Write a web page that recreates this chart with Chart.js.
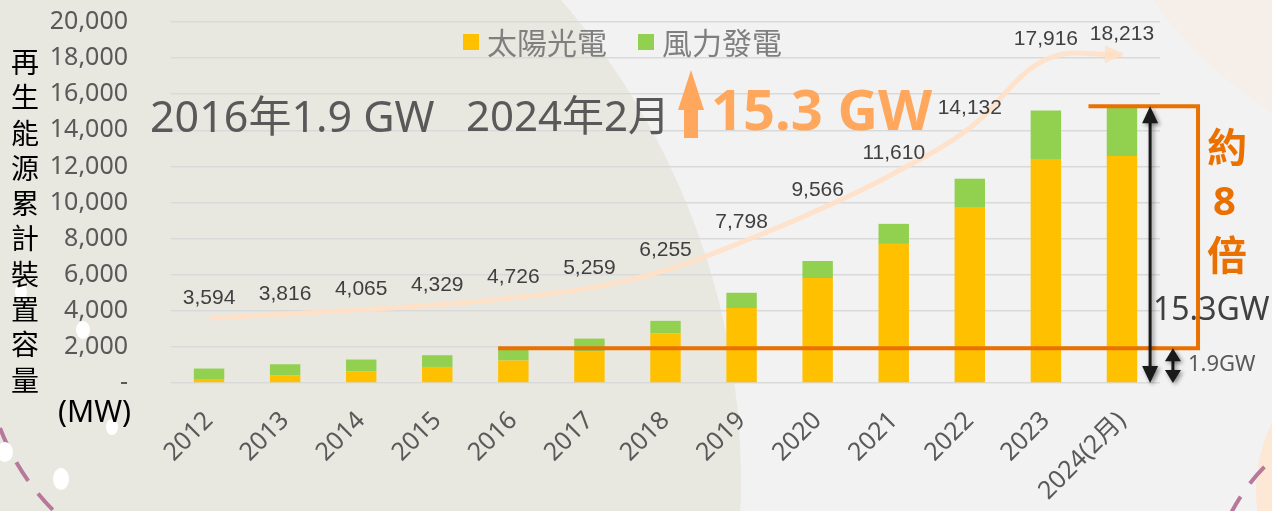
<!DOCTYPE html>
<html>
<head>
<meta charset="utf-8">
<script src="https://cdn.jsdelivr.net/npm/chart.js@4.4.1/dist/chart.umd.min.js"></script>
<style>
  body { margin: 0; width: 1272px; height: 511px; overflow: hidden; background: #F2F2F2; position: relative; font-family: "Noto Sans", "Noto Sans CJK TC", sans-serif; }
  #bg, #fg { position: absolute; left: 0; top: 0; }
  #c { position: absolute; left: 0; top: 0; }
  .t { position: absolute; white-space: pre; line-height: 1; }
  .axisTitle { left: 10px; top: 44px; font-size: 28px; line-height: 35.3px; color: #000; width: 30px; text-align: center; font-family: "Noto Sans CJK TC", sans-serif; }
  .legend { position: absolute; top: 19px; left: 463px; font-size: 30px; color: #7F7F7F; font-family: "Noto Sans CJK TC", sans-serif; }
  .legend span.box { display: inline-block; width: 16px; height: 16px; margin-right: 8px; vertical-align: 4px; }
</style>
</head>
<body>
<svg id="bg" width="1272" height="511">
  <circle cx="11" cy="480" r="730" fill="#E8E8E1"/>
  <circle cx="1500" cy="-250" r="428" fill="#F6EEE8"/>
  <circle cx="1404" cy="490" r="148" fill="#FDE7D5"/>
  <circle cx="1400" cy="600" r="190" fill="none" stroke="#B7789C" stroke-width="4" stroke-dasharray="22 16"/>
  <path d="M 0 428 A 232 232 0 0 0 55 512" fill="none" stroke="#B7789C" stroke-width="4" stroke-dasharray="22 16"/>
  <ellipse cx="21" cy="292" rx="6" ry="8" fill="#fff"/>
  <ellipse cx="83" cy="330" rx="7" ry="9" fill="#fff"/>
  <ellipse cx="112" cy="427" rx="6" ry="8" fill="#fff"/>
  <ellipse cx="5" cy="452" rx="8" ry="10" fill="#fff"/>
  <ellipse cx="61" cy="479" rx="8" ry="11" fill="#fff"/>
</svg>
<canvas id="c" width="1272" height="511"></canvas>
<svg id="fg" width="1272" height="511">
  <polygon points="691,70 704,110 698,110 698,138 684,138 684,110 678,110" fill="#FFA75C"/>
</svg>

<div class="t axisTitle">再<br>生<br>能<br>源<br>累<br>計<br>裝<br>置<br>容<br>量</div>
<div class="t" style="left:58px;top:396px;font-size:30px;color:#000;">(MW)</div>

<div class="legend"><span class="box" style="background:#FFC000"></span>太陽光電<span style="display:inline-block;width:31px"></span><span class="box" style="background:#92D050"></span>風力發電</div>

<div class="t" style="left:150px;top:94px;font-size:43px;color:#595959;">2016年1.9 GW</div>
<div class="t" style="left:466px;top:94px;font-size:42px;color:#595959;">2024年2月</div>
<div class="t" style="left:711px;top:80px;font-size:56px;font-weight:bold;color:#FFA75C;">15.3 GW</div>

<div class="t" style="left:1207px;top:125px;font-size:40px;font-weight:bold;color:#EA7100;font-family:'Noto Sans CJK TC',sans-serif;">約</div>
<div class="t" style="left:1213px;top:180px;font-size:40px;font-weight:bold;color:#EA7100;">8</div>
<div class="t" style="left:1207px;top:233px;font-size:40px;font-weight:bold;color:#EA7100;font-family:'Noto Sans CJK TC',sans-serif;">倍</div>
<div class="t" style="left:1153px;top:292px;font-size:32px;color:#404040;">15.3GW</div>
<div class="t" style="left:1188px;top:351px;font-size:22px;color:#595959;">1.9GW</div>

<script>
// data (MW)
const years = ['2012', '2013', '2014', '2015', '2016', '2017', '2018', '2019', '2020', '2021', '2022', '2023', '2024(2月)'];
const solar = [222, 411, 633, 889, 1245, 1768, 2744, 4150, 5817, 7706, 9744, 12411, 12578];
const wind = [578, 628, 667, 650, 682, 692, 700, 850, 944, 1111, 1573, 2683, 2755];
const renewable = [3594, 3816, 4065, 4329, 4726, 5259, 6255, 7798, 9566, 11610, 14132, 17916, 18213];
const yTicks = [0, 2000, 4000, 6000, 8000, 10000, 12000, 14000, 16000, 18000, 20000];

const curveColor = 'rgba(255, 224, 198, 0.9)';
const fmt = v => v.toLocaleString('en-US');

// labels on the curve, its arrow head, the orange bracket and the black arrows
const annotate = {
  id: 'annotate',
  afterDatasetsDraw(chart) {
    const { ctx, scales: { x, y } } = chart;
    const last = years.length - 1;
    const cw = x.getPixelForValue(1) - x.getPixelForValue(0);
    const bars = chart.getDatasetMeta(0).data;
    const pts = chart.getDatasetMeta(2).data;
    const y0 = y.getPixelForValue(0);
    const yLo = y.getPixelForValue(solar[4] + wind[4]);
    const yHi = y.getPixelForValue(solar[last] + wind[last]);
    const xE = x.getPixelForValue(last);
    const xL = bars[4].x - bars[4].width / 2;
    const xR = xE + cw;

    ctx.save();
    // curve arrow head
    const pe = pts[last];
    ctx.fillStyle = curveColor;
    ctx.beginPath();
    ctx.moveTo(pe.x + 2, pe.y);
    ctx.lineTo(pe.x - 17, pe.y - 9);
    ctx.lineTo(pe.x - 17, pe.y + 9);
    ctx.closePath();
    ctx.fill();

    ctx.font = '21px "Liberation Sans", Arial, sans-serif';
    ctx.fillStyle = '#404040';
    ctx.textAlign = 'center';
    ctx.textBaseline = 'middle';
    pts.forEach((p, i) => ctx.fillText(fmt(renewable[i]), p.x, p.y - 20));

    // orange bracket
    ctx.strokeStyle = '#EA7100';
    ctx.lineWidth = 4;
    ctx.beginPath();
    ctx.moveTo(xL, yLo);
    ctx.lineTo(xR, yLo);
    ctx.lineTo(xR, yHi);
    ctx.lineTo(xE - 0.44 * cw, yHi);
    ctx.stroke();

    // black double arrows
    const dbl = (ax, top, bot, hw, hh) => {
      ctx.save();
      ctx.shadowColor = 'rgba(0,0,0,0.45)';
      ctx.shadowBlur = 4;
      ctx.shadowOffsetX = 2;
      ctx.shadowOffsetY = 2;
      ctx.fillStyle = '#1a1a1a';
      ctx.strokeStyle = '#1a1a1a';
      ctx.lineWidth = 3;
      ctx.beginPath();
      ctx.moveTo(ax, top + hh - 2);
      ctx.lineTo(ax, bot - hh + 2);
      ctx.stroke();
      ctx.beginPath();
      ctx.moveTo(ax, top);
      ctx.lineTo(ax - hw, top + hh);
      ctx.lineTo(ax + hw, top + hh);
      ctx.closePath();
      ctx.moveTo(ax, bot);
      ctx.lineTo(ax - hw, bot - hh);
      ctx.lineTo(ax + hw, bot - hh);
      ctx.closePath();
      ctx.fill();
      ctx.restore();
    };
    dbl(xE + 0.37 * cw, yHi, y0, 8, 17);
    dbl(xE + 0.67 * cw, yLo, y0, 8, 13);
    ctx.restore();
  }
};

new Chart(document.getElementById('c').getContext('2d'), {
  data: {
    labels: years,
    datasets: [
      {
        type: 'bar',
        label: '太陽光電',
        data: solar,
        backgroundColor: '#FFC000',
        stack: 'cap',
        barPercentage: 0.8,
        categoryPercentage: 0.5
      },
      {
        type: 'bar',
        label: '風力發電',
        data: wind,
        backgroundColor: '#92D050',
        stack: 'cap',
        barPercentage: 0.8,
        categoryPercentage: 0.5
      },
      {
        type: 'line',
        label: 'renewable',
        data: renewable,
        stack: 'curve',
        borderColor: curveColor,
        borderWidth: 5,
        pointRadius: 0,
        tension: 0.4,
        fill: false,
        clip: false
      }
    ]
  },
  options: {
    responsive: false,
    animation: false,
    devicePixelRatio: 1,
    layout: { padding: { left: 0, right: 112, top: 22, bottom: 0 } },
    plugins: {
      legend: { display: false },
      tooltip: { enabled: false }
    },
    scales: {
      x: {
        stacked: true,
        grid: { display: false },
        border: { display: false },
        ticks: {
          autoSkip: false,
          maxRotation: 45,
          minRotation: 45,
          padding: 15,
          color: '#595959',
          font: { family: '"Noto Sans", "Noto Sans CJK TC", sans-serif', size: 25 }
        },
        afterFit: s => { s.height = 128; }
      },
      y: {
        stacked: true,
        min: 0,
        max: 20000,
        afterBuildTicks: s => { s.ticks = yTicks.map(v => ({ value: v })); },
        grid: { color: '#D9D9D9', lineWidth: 1.5, drawTicks: true, tickLength: 40, tickColor: 'rgba(0,0,0,0)' },
        border: { display: false },
        ticks: {
          autoSkip: false,
          padding: 3,
          color: '#595959',
          font: { family: '"Noto Sans", sans-serif', size: 25 },
          callback: v => v === 0 ? '-' : fmt(v)
        },
        afterFit: s => { s.width = 171; }
      }
    }
  },
  plugins: [annotate]
});
</script>
</body>
</html>
